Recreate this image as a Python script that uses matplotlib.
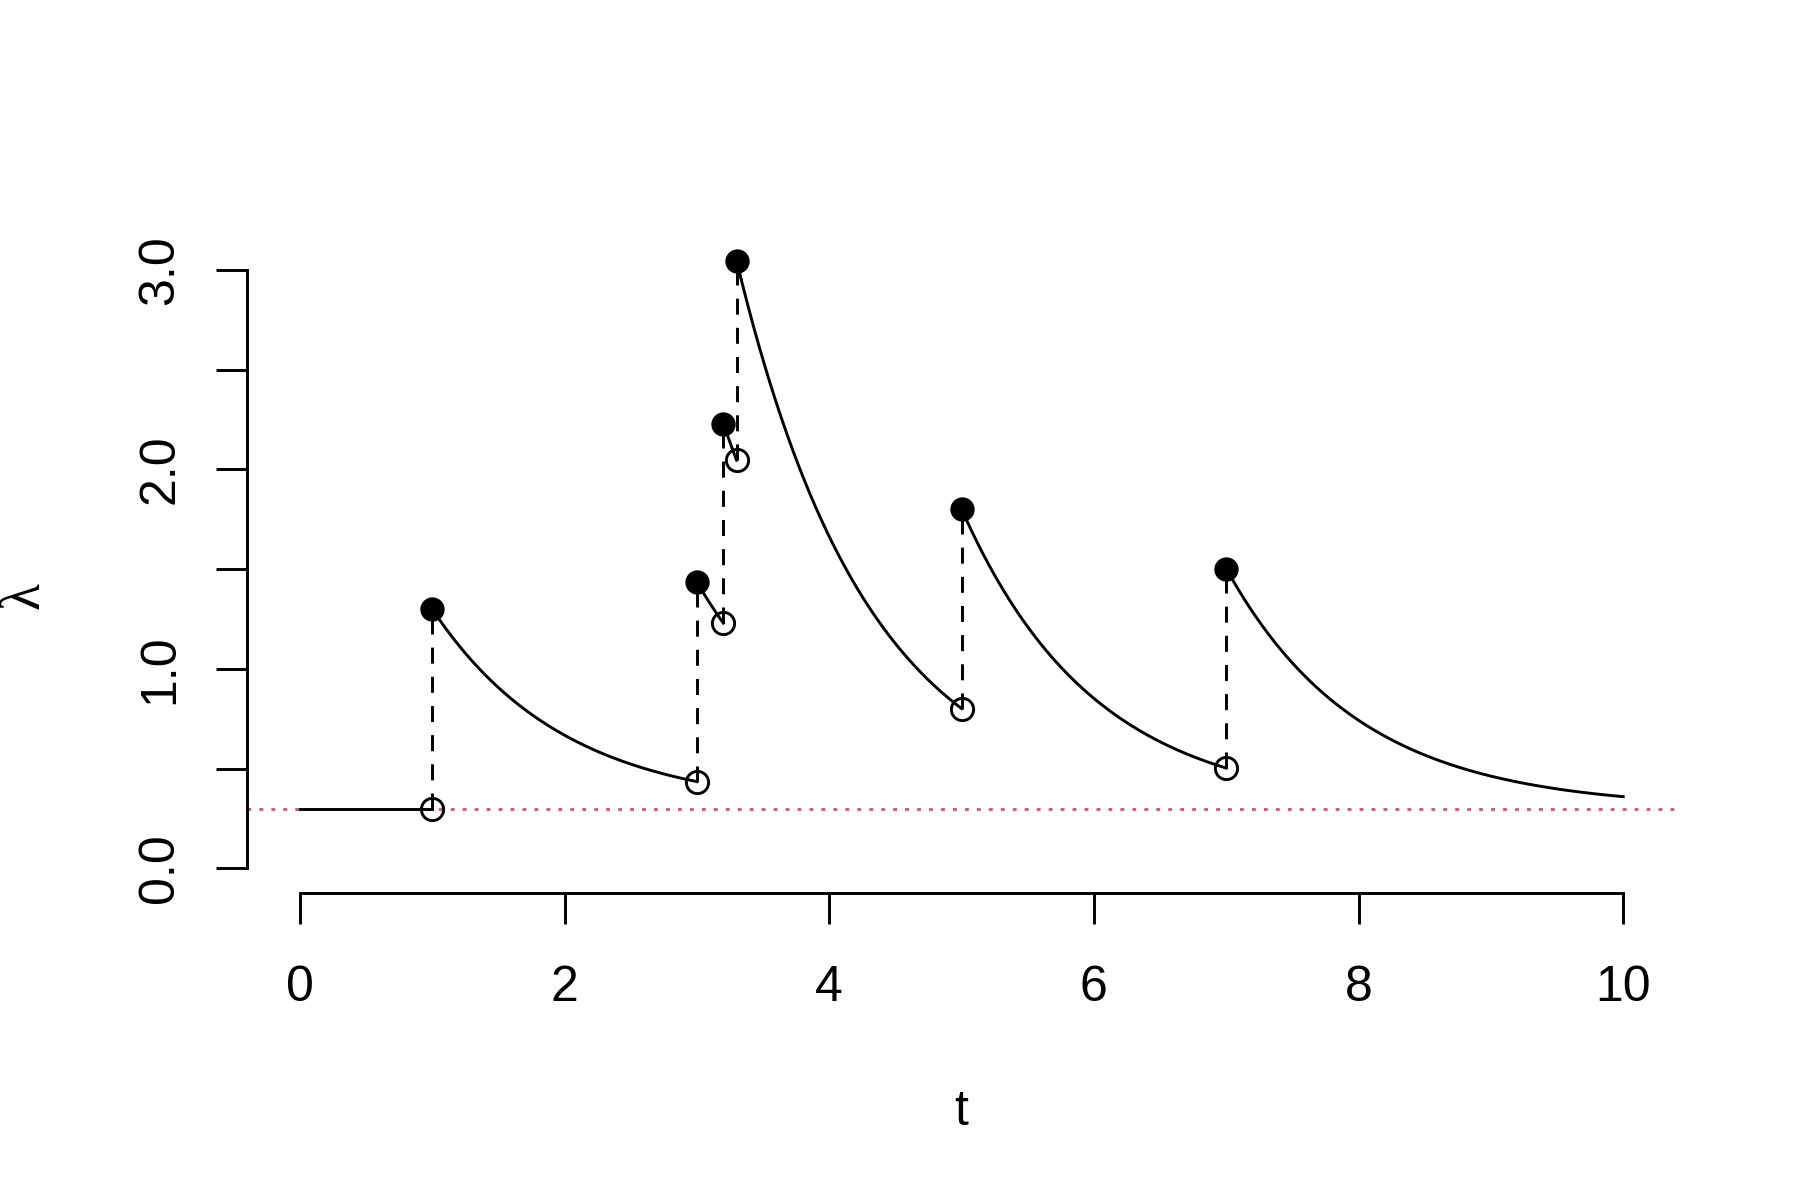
import numpy as np
import matplotlib
matplotlib.use('Agg')
import matplotlib.pyplot as plt

plt.rcParams['font.family'] = ['Liberation Sans', 'DejaVu Sans']

# Hawkes process
mu = 0.3          # baseline intensity (red dotted line)
alpha = 1.0       # jump size at every event
beta = 1.0        # exponential decay rate
event_times = [1.0, 3.0, 3.2, 3.3, 5.0, 7.0]
t_end = 10.0


def intensity(t, events):
    ev = np.array([e for e in events if e < t])
    return mu + alpha * np.exp(-beta * (t - ev)).sum()


fig = plt.figure(figsize=(18, 12), dpi=100)
ax = fig.add_axes([0.1372, 0.256, 0.794, 0.547])

LW = 2.1
# flat part before first event
ax.plot([0, event_times[0]], [mu, mu], color='black', lw=LW, zorder=3)

bounds = event_times + [t_end]
for i, te in enumerate(event_times):
    before = intensity(te, event_times)
    after = before + alpha
    nxt = bounds[i + 1]
    tt = np.linspace(te, nxt, 200)
    lam = np.array([intensity(s, event_times[:i + 1]) for s in tt])
    lam[0] = after
    ax.plot(tt, lam, color='black', lw=LW, zorder=3)
    ax.plot([te, te], [before, after], color='black', lw=LW,
            dashes=(5.5, 4.5), zorder=2)
    ax.plot(te, before, 'o', mfc='none', mec='black', mew=2.1,
            ms=16, zorder=4)
    ax.plot(te, after, 'o', color='black', ms=16.5, zorder=5)

ax.axhline(mu, color='#DF536B', lw=LW, dashes=(1.3, 2.8), zorder=1)

ymax = max(intensity(te, event_times) + alpha for te in event_times)
ax.set_xlim(-0.04 * t_end, t_end * 1.04)
ax.set_ylim(-0.04 * ymax, ymax * 1.04)

ax.spines['top'].set_visible(False)
ax.spines['right'].set_visible(False)
ax.spines['left'].set_bounds(0, 3)
ax.spines['bottom'].set_bounds(0, 10)
for s in ('left', 'bottom'):
    ax.spines[s].set_linewidth(LW)

ax.set_xticks([0, 2, 4, 6, 8, 10])
ax.set_yticks([0, 0.5, 1, 1.5, 2, 2.5, 3])
ax.set_yticklabels(['0.0', '', '1.0', '', '2.0', '', '3.0'], rotation=90,
                   va='center')
ax.tick_params(axis='both', length=22, width=LW, labelsize=36)
ax.tick_params(axis='x', pad=30)
ax.tick_params(axis='y', pad=24)

ax.set_xlabel('t', fontsize=36, labelpad=56)
fig.text(24 / 1800, 1 - 596 / 1200, 'λ', rotation=90, ha='center',
         va='center', fontsize=40, family=['Liberation Serif', 'DejaVu Serif'])

fig.savefig('out.png', dpi=100, facecolor='white')
